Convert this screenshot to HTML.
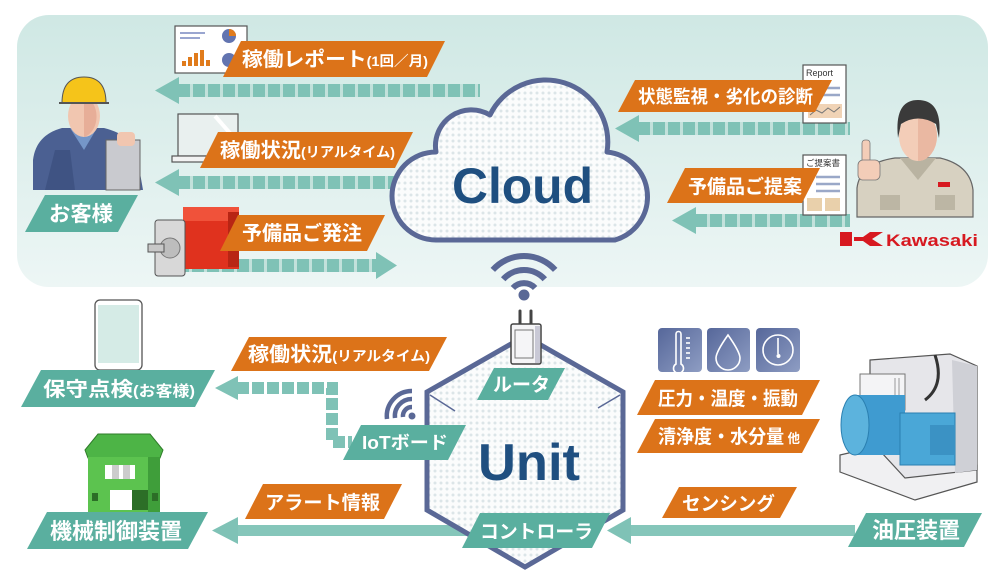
<!DOCTYPE html>
<html><head><meta charset="utf-8">
<style>
html,body{margin:0;padding:0;background:#fff;}
svg{display:block;}
text{font-family:"Liberation Sans","Noto Sans CJK JP",sans-serif;font-weight:bold;}
</style></head><body>
<svg width="1000" height="588" viewBox="0 0 1000 588" xmlns="http://www.w3.org/2000/svg">
<defs>
<linearGradient id="pg" x1="0" y1="0" x2="0" y2="1"><stop offset="0" stop-color="#cfe8e4"/><stop offset="1" stop-color="#edf6f5"/></linearGradient>
<pattern id="dots" width="6" height="6" patternUnits="userSpaceOnUse"><rect width="6" height="6" fill="#fbfcfc"/><circle cx="3" cy="3" r="1.5" fill="#dce5e8"/></pattern>
<linearGradient id="ig" x1="0" y1="0" x2="1" y2="1"><stop offset="0" stop-color="#56679a"/><stop offset="1" stop-color="#8e9dc3"/></linearGradient>
</defs>
<rect width="1000" height="588" fill="#fff"/>
<rect x="17" y="15" width="971" height="272" rx="32" fill="url(#pg)"/>

<!-- dashed arrows top -->
<g>
<line x1="178" y1="90.5" x2="480" y2="90.5" stroke="#c2e1db" stroke-width="13"/>
<line x1="178" y1="90.5" x2="480" y2="90.5" stroke="#7fc2b6" stroke-width="13" stroke-dasharray="12 3"/>
<polygon points="155,90.5 179,77 179,104" fill="#7fc2b6"/>
<line x1="178" y1="182.5" x2="400" y2="182.5" stroke="#c2e1db" stroke-width="13"/>
<line x1="178" y1="182.5" x2="400" y2="182.5" stroke="#7fc2b6" stroke-width="13" stroke-dasharray="12 3"/>
<polygon points="155,182.5 179,169 179,196" fill="#7fc2b6"/>
<line x1="162" y1="265.5" x2="377" y2="265.5" stroke="#c2e1db" stroke-width="13"/>
<line x1="162" y1="265.5" x2="377" y2="265.5" stroke="#7fc2b6" stroke-width="13" stroke-dasharray="12 3"/>
<polygon points="397,265.5 376,252 376,279" fill="#7fc2b6"/>
<line x1="638" y1="128.5" x2="850" y2="128.5" stroke="#c2e1db" stroke-width="13"/>
<line x1="638" y1="128.5" x2="850" y2="128.5" stroke="#7fc2b6" stroke-width="13" stroke-dasharray="12 3"/>
<polygon points="615,128.5 639,115 639,142" fill="#7fc2b6"/>
<line x1="695" y1="220.5" x2="850" y2="220.5" stroke="#c2e1db" stroke-width="13"/>
<line x1="695" y1="220.5" x2="850" y2="220.5" stroke="#7fc2b6" stroke-width="13" stroke-dasharray="12 3"/>
<polygon points="672,220.5 696,207 696,234" fill="#7fc2b6"/>
</g>

<!-- cloud -->
<path d="M436,240 A44,44 0 0 1 436,152 A36,36 0 0 1 490,115 A62,62 0 0 1 607,152 A45,45 0 0 1 615,240 Z" fill="url(#dots)" stroke="#5a6896" stroke-width="5" stroke-linejoin="round"/>
<text x="452" y="203" font-size="50" fill="#1f4f80" textLength="141" lengthAdjust="spacingAndGlyphs">Cloud</text>

<!-- wifi main -->
<g fill="none" stroke="#5a6896" stroke-width="6" stroke-linecap="butt">
<path d="M492.8,269.9 A42,42 0 0 1 555.2,269.9"/>
<path d="M503.2,279.3 A28,28 0 0 1 544.8,279.3"/>
<path d="M512.9,288 A15,15 0 0 1 535.1,288"/>
</g>
<circle cx="524" cy="295" r="5.5" fill="#5a6896"/>

<!-- report image top-left -->
<rect x="175" y="26" width="72" height="47" fill="#fff" stroke="#555" stroke-width="1.2"/>
<line x1="180" y1="33" x2="205" y2="33" stroke="#9aa6d0" stroke-width="2"/>
<line x1="180" y1="38" x2="200" y2="38" stroke="#9aa6d0" stroke-width="2"/>
<rect x="182" y="61" width="4" height="5" fill="#e07b1c"/>
<rect x="188" y="57" width="4" height="9" fill="#e07b1c"/>
<rect x="194" y="53" width="4" height="13" fill="#e07b1c"/>
<rect x="200" y="50" width="4" height="16" fill="#e07b1c"/>
<rect x="206" y="60" width="4" height="6" fill="#e07b1c"/>
<circle cx="229" cy="36" r="7" fill="#6274b0"/>
<path d="M229,36 L229,29 A7,7 0 0 1 236,36 Z" fill="#e07b1c"/>
<circle cx="229" cy="60" r="7" fill="#6274b0"/>

<!-- laptop -->
<rect x="178" y="114" width="60" height="42" fill="#e9f0ef" stroke="#555" stroke-width="1.2"/>
<line x1="215" y1="116" x2="236" y2="140" stroke="#fff" stroke-width="4"/>
<rect x="172" y="156" width="70" height="6" fill="#f2f2f2" stroke="#555" stroke-width="1.2"/>

<!-- customer left -->
<path d="M33,190 L33,160 Q36,135 62,128 L104,128 Q128,134 136,150 L143,190 Z" fill="#4b6092"/>
<polygon points="70,128 84,150 97,128" fill="#7596c8"/>
<ellipse cx="84" cy="116" rx="16" ry="21" fill="#f1c6b0"/>
<path d="M84,96 A16,21 0 0 1 84,137 Z" fill="#e7ae98"/>
<path d="M62,103 Q62,77 84,77 Q106,77 106,103 Z" fill="#f5c41a" stroke="#555" stroke-width="1"/>
<line x1="59" y1="103" x2="109" y2="103" stroke="#555" stroke-width="2"/>
<polygon points="45,190 55,150 70,150 75,190" fill="#3f5383"/>
<rect x="106" y="140" width="34" height="50" fill="#c9cacf" stroke="#666" stroke-width="1"/>
<rect x="117" y="132" width="18" height="14" rx="4" fill="#f1c6b0"/>

<!-- motor -->
<rect x="183" y="207" width="56" height="62" fill="#e0321e"/>
<rect x="183" y="207" width="56" height="14" fill="#f0523a"/>
<rect x="228" y="212" width="11" height="55" fill="#b82514"/>
<rect x="155" y="220" width="30" height="56" rx="3" fill="#d8d8d8" stroke="#555" stroke-width="1"/>
<circle cx="170" cy="248" r="10" fill="#bdbdbd" stroke="#777" stroke-width="1"/>
<rect x="148" y="244" width="16" height="8" fill="#c8c8c8" stroke="#555" stroke-width="1"/>

<!-- right docs -->
<rect x="803" y="65" width="43" height="58" fill="#fff" stroke="#555" stroke-width="1.2"/>
<text x="806" y="76" font-size="9" font-weight="normal" fill="#333" style="font-weight:normal">Report</text>
<line x1="818" y1="88" x2="840" y2="88" stroke="#9aa8c8" stroke-width="2.5"/>
<line x1="818" y1="95" x2="840" y2="95" stroke="#9aa8c8" stroke-width="2.5"/>
<rect x="808" y="104" width="34" height="14" fill="#f0d3b6"/>
<polyline points="810,115 816,110 822,113 828,108 834,112 840,107" fill="none" stroke="#777" stroke-width="1"/>
<rect x="803" y="155" width="43" height="60" fill="#fff" stroke="#555" stroke-width="1.2"/>
<text x="806" y="166" font-size="8.5" fill="#333" style="font-weight:normal">ご提案書</text>
<line x1="816" y1="177" x2="840" y2="177" stroke="#9aa8c8" stroke-width="2.5"/>
<line x1="816" y1="184" x2="840" y2="184" stroke="#9aa8c8" stroke-width="2.5"/>
<line x1="816" y1="191" x2="840" y2="191" stroke="#9aa8c8" stroke-width="2.5"/>
<rect x="807" y="198" width="15" height="13" fill="#e9d0ab"/>
<rect x="825" y="198" width="15" height="13" fill="#e9d0ab"/>

<!-- right person -->
<path d="M857,217 L857,188 Q860,163 895,158 L940,158 Q970,165 973,190 L973,217 Z" fill="#d7d1c1" stroke="#666" stroke-width="1.2"/>
<polygon points="900,158 918,180 936,158" fill="#b9b3a1"/>
<ellipse cx="918" cy="136" rx="19" ry="25" fill="#f3cdb8"/>
<path d="M918,111 A19,25 0 0 1 918,161 Z" fill="#eab8a2"/>
<path d="M898,138 Q894,100 918,100 Q943,100 939,138 L936,124 Q918,113 901,124 Z" fill="#3a3a3a"/>
<rect x="862" y="140" width="8" height="24" rx="3" fill="#f3cdb8" stroke="#777" stroke-width="0.8"/>
<rect x="858" y="160" width="22" height="20" rx="5" fill="#f3cdb8" stroke="#777" stroke-width="0.8"/>
<rect x="880" y="195" width="20" height="15" fill="#bcb6a4"/>
<rect x="935" y="195" width="20" height="15" fill="#bcb6a4"/>
<rect x="938" y="182" width="12" height="5" fill="#d71920"/>

<!-- kawasaki logo -->
<rect x="840" y="232" width="12" height="14" fill="#d71920"/>
<polygon points="854,237 863,237 870,232 883,232 872,239 883,246 870,246 863,241 854,241" fill="#d71920"/>
<text x="886" y="246" font-size="17" fill="#d71920" textLength="92" lengthAdjust="spacingAndGlyphs">Kawasaki</text>

<!-- top labels -->
<polygon points="241,41 445,41 427,77 223,77" fill="#dc7319"/>
<text x="242" y="66" font-size="20" fill="#fff" textLength="186" lengthAdjust="spacingAndGlyphs">稼働レポート<tspan font-size="14">(1回／月)</tspan></text>
<polygon points="218,132 413,132 395,168 200,168" fill="#dc7319"/>
<text x="220" y="157" font-size="20" fill="#fff" textLength="175" lengthAdjust="spacingAndGlyphs">稼働状況<tspan font-size="14">(リアルタイム)</tspan></text>
<polygon points="238,215 385,215 367,251 220,251" fill="#dc7319"/>
<text x="242" y="240" font-size="20" fill="#fff" textLength="120" lengthAdjust="spacingAndGlyphs">予備品ご発注</text>
<polygon points="45,195 138,195 118,232 25,232" fill="#5aaf9f"/>
<text x="49" y="221" font-size="21" fill="#fff" textLength="64" lengthAdjust="spacingAndGlyphs">お客様</text>
<polygon points="635,80 832,80 815,112 618,112" fill="#dc7319"/>
<text x="638" y="103" font-size="18" fill="#fff" textLength="175" lengthAdjust="spacingAndGlyphs">状態監視・劣化の診断</text>
<polygon points="685,168 820,168 802,203 667,203" fill="#dc7319"/>
<text x="688" y="193" font-size="19" fill="#fff" textLength="114" lengthAdjust="spacingAndGlyphs">予備品ご提案</text>

<!-- bottom left: tablet -->
<rect x="95" y="300" width="47" height="70" rx="5" fill="#fff" stroke="#555" stroke-width="1.3"/>
<rect x="98" y="305" width="41" height="58" fill="#d5ebe6"/>

<!-- green machine -->
<polygon points="85,450 98,434 150,434 163,450 160,458 88,458" fill="#4db446" stroke="#2f7d2a" stroke-width="1"/>
<rect x="88" y="457" width="72" height="55" fill="#5cc34f"/>
<rect x="148" y="457" width="12" height="55" fill="#3f9e3a"/>
<rect x="105" y="465" width="30" height="14" fill="#fff"/>
<rect x="112" y="465" width="7" height="14" fill="#ccc"/>
<rect x="123" y="465" width="7" height="14" fill="#ccc"/>
<rect x="110" y="490" width="22" height="20" fill="#fff"/>
<rect x="132" y="490" width="16" height="20" fill="#2c6e27"/>
<rect x="92" y="493" width="6" height="8" fill="#2c6e27"/>
<rect x="152" y="493" width="6" height="8" fill="#2c6e27"/>

<!-- dashed L arrow -->
<polyline points="237,388 332,388 332,442 352,442" fill="none" stroke="#7fc2b6" stroke-width="12" stroke-dasharray="12 3"/>
<polygon points="215,388 238,376 238,400" fill="#7fc2b6"/>

<!-- solid arrows -->
<rect x="236" y="525" width="236" height="11" fill="#85c6ba"/>
<polygon points="212,530.5 238,517 238,544" fill="#7fc2b6"/>
<rect x="629" y="525" width="226" height="11" fill="#85c6ba"/>
<polygon points="607,530.5 631,517 631,544" fill="#7fc2b6"/>

<!-- hexagon unit -->
<polygon points="525,336 427,392 427,510 525,567 623,510 623,392" fill="url(#dots)" stroke="#5a6896" stroke-width="5" stroke-linejoin="miter"/>
<line x1="430" y1="395" x2="455" y2="411" stroke="#5a6896" stroke-width="1.5"/>
<line x1="620" y1="395" x2="598" y2="408" stroke="#5a6896" stroke-width="1.5"/>
<text x="478" y="480" font-size="52" fill="#1f4f80" textLength="102" lengthAdjust="spacingAndGlyphs">Unit</text>

<!-- router -->
<line x1="520" y1="311" x2="520" y2="325" stroke="#444" stroke-width="3" stroke-linecap="round"/>
<line x1="531" y1="311" x2="531" y2="325" stroke="#444" stroke-width="3" stroke-linecap="round"/>
<rect x="511" y="324" width="30" height="40" rx="2" fill="#f5f5f7" stroke="#444" stroke-width="1.5"/>
<rect x="535" y="326" width="5" height="37" fill="#c9c9d6"/>
<rect x="515" y="330" width="18" height="28" fill="none" stroke="#777" stroke-width="1"/>

<!-- small wifi -->
<g fill="none" stroke="#5a6896" stroke-width="4.5">
<path d="M403,417 A9,9 0 0 1 412,407"/>
<path d="M395,418 A17,17 0 0 1 412,399"/>
<path d="M387,419 A25,25 0 0 1 412,391"/>
</g>
<circle cx="412" cy="416" r="3.5" fill="#5a6896"/>

<!-- bottom labels -->
<polygon points="249,337 447,337 429,371 231,371" fill="#dc7319"/>
<text x="248" y="361" font-size="20" fill="#fff" textLength="182" lengthAdjust="spacingAndGlyphs">稼働状況<tspan font-size="14">(リアルタイム)</tspan></text>
<polygon points="41,370 215,370 195,407 21,407" fill="#5aaf9f"/>
<text x="43" y="396" font-size="20" fill="#fff" textLength="152" lengthAdjust="spacingAndGlyphs">保守点検<tspan font-size="15">(お客様)</tspan></text>
<polygon points="361,425 466,425 448,460 343,460" fill="#5aaf9f"/>
<text x="362" y="449" font-size="18" fill="#fff" textLength="86" lengthAdjust="spacingAndGlyphs">IoTボード</text>
<polygon points="47,512 208,512 188,549 27,549" fill="#5aaf9f"/>
<text x="50" y="539" font-size="22" fill="#fff" textLength="132" lengthAdjust="spacingAndGlyphs">機械制御装置</text>
<polygon points="263,484 402,484 384,519 245,519" fill="#dc7319"/>
<text x="265" y="509" font-size="19" fill="#fff" textLength="115" lengthAdjust="spacingAndGlyphs">アラート情報</text>
<polygon points="494,368 565,368 548,400 477,400" fill="#5aaf9f"/>
<text x="493" y="391" font-size="19" fill="#fff" textLength="57" lengthAdjust="spacingAndGlyphs">ルータ</text>
<polygon points="480,513 610,513 592,548 462,548" fill="#5aaf9f"/>
<text x="480" y="538" font-size="19" fill="#fff" textLength="113" lengthAdjust="spacingAndGlyphs">コントローラ</text>

<!-- sensor icons -->
<rect x="658" y="328" width="44" height="44" rx="4" fill="url(#ig)"/>
<rect x="707" y="328" width="43" height="44" rx="4" fill="url(#ig)"/>
<rect x="756" y="328" width="44" height="44" rx="4" fill="url(#ig)"/>
<g fill="none" stroke="#fff" stroke-width="1.6">
<path d="M676,364 A5,5 0 1 0 681,364 L681,334 A2.5,2.5 0 0 0 676,334 Z"/>
<line x1="686" y1="338" x2="690" y2="338"/><line x1="686" y1="343" x2="690" y2="343"/><line x1="686" y1="348" x2="690" y2="348"/><line x1="686" y1="353" x2="690" y2="353"/><line x1="686" y1="358" x2="690" y2="358"/>
<path d="M728,335 Q716,352 716,358 A12,12 0 0 0 740,358 Q740,352 728,335 Z"/>
<circle cx="778" cy="350" r="15"/>
<line x1="778" y1="338" x2="778" y2="354"/>
</g>
<circle cx="778.5" cy="356" r="2" fill="#fff"/>

<polygon points="655,380 820,380 802,415 637,415" fill="#dc7319"/>
<text x="658" y="405" font-size="19" fill="#fff" textLength="140" lengthAdjust="spacingAndGlyphs">圧力・温度・振動</text>
<polygon points="655,419 820,419 802,453 637,453" fill="#dc7319"/>
<text x="658" y="443" font-size="19" fill="#fff" textLength="142" lengthAdjust="spacingAndGlyphs">清浄度・水分量<tspan font-size="13"> 他</tspan></text>
<polygon points="679,487 797,487 780,518 662,518" fill="#dc7319"/>
<text x="682" y="510" font-size="19" fill="#fff" textLength="93" lengthAdjust="spacingAndGlyphs">センシング</text>
<polygon points="866,513 982,513 964,547 848,547" fill="#5aaf9f"/>
<text x="872" y="538" font-size="22" fill="#fff" textLength="88" lengthAdjust="spacingAndGlyphs">油圧装置</text>

<!-- hydraulic unit -->
<polygon points="840,455 905,440 977,465 977,482 915,500 840,472" fill="#f0f0f2" stroke="#555" stroke-width="1.2"/>
<polygon points="870,360 950,354 977,366 977,470 905,478 870,440" fill="#e6e6ea" stroke="#555" stroke-width="1.2"/>
<polygon points="952,360 977,366 977,470 955,473" fill="#cfd0d6"/>
<rect x="860" y="374" width="45" height="36" fill="#f4f4f6" stroke="#777" stroke-width="1"/>
<line x1="895" y1="378" x2="895" y2="408" stroke="#999"/><line x1="899" y1="378" x2="899" y2="408" stroke="#999"/>
<path d="M925,400 Q945,385 935,355" fill="none" stroke="#333" stroke-width="3"/>
<rect x="855" y="395" width="50" height="60" fill="#3f9bd0"/>
<ellipse cx="855" cy="425" rx="14" ry="30" fill="#5cb3dd" stroke="#2a7fb0" stroke-width="1"/>
<rect x="900" y="413" width="55" height="52" fill="#4aa7d7" stroke="#2a7fb0" stroke-width="1"/>
<rect x="930" y="425" width="25" height="30" fill="#3b92c4"/>
</svg>
</body></html>
